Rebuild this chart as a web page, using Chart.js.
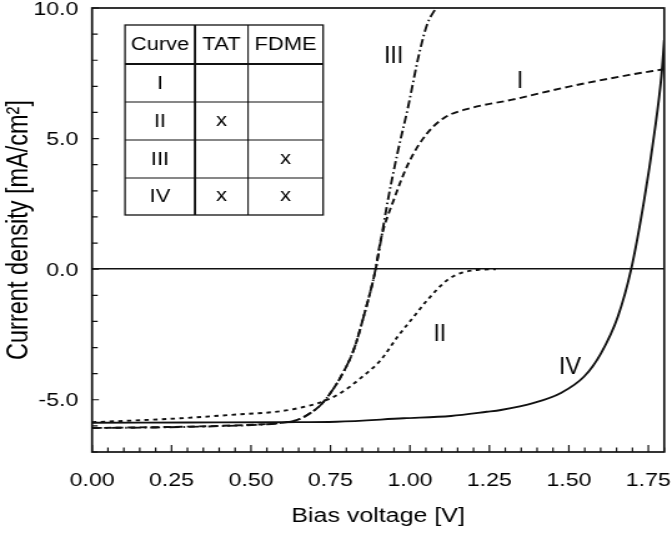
<!DOCTYPE html>
<html>
<head>
<meta charset="utf-8">
<script src="https://cdn.jsdelivr.net/npm/chart.js@4.4.1/dist/chart.umd.min.js"></script>
<style>
  html, body { margin: 0; padding: 0; background: #fff; overflow: hidden; }
  #wrap { width: 538px; height: 534px; transform: scaleX(1.249); transform-origin: 0 0; }
</style>
</head>
<body>
<div id="wrap"><canvas id="ivChart"></canvas></div>
<script>
// curve I : no TAT, no FDME
let voltsI = [0, 0.2, 0.4, 0.55, 0.593, 0.646, 0.687, 0.719, 0.75, 0.782, 0.823, 0.854, 0.892, 0.908, 0.949, 0.996, 1.05, 1.107, 1.192, 1.318, 1.497, 1.686, 1.8];
let curveI = [-6.08, -6.05, -6.0, -5.93, -5.89, -5.77, -5.51, -5.2, -4.74, -4.13, -3.09, -1.83, 0, 1.12, 2.65, 4.07, 5.14, 5.79, 6.17, 6.48, 6.98, 7.43, 7.66];
// curve II : TAT
let voltsII = [0, 0.277, 0.435, 0.593, 0.656, 0.719, 0.782, 0.845, 0.908, 0.961, 1.012, 1.055, 1.118, 1.16, 1.211, 1.27];
let curveII = [-5.86, -5.71, -5.58, -5.44, -5.3, -5.1, -4.74, -4.17, -3.48, -2.59, -1.82, -1.18, -0.41, -0.15, -0.03, 0];
// curve III : FDME
let voltsIII = [0, 0.2, 0.4, 0.55, 0.593, 0.646, 0.687, 0.719, 0.75, 0.782, 0.823, 0.854, 0.892, 0.91, 0.93, 0.96, 0.994, 1.029, 1.055, 1.082];
let curveIII = [-6.08, -6.06, -6.01, -5.94, -5.89, -5.77, -5.51, -5.2, -4.74, -4.13, -3.09, -1.83, 0, 1.2, 2.6, 4.4, 6.2, 8.25, 9.4, 10.0];
// curve IV : TAT + FDME
let voltsIV = [0, 0.3, 0.6, 0.769, 0.98, 1.129, 1.242, 1.286, 1.39, 1.475, 1.548, 1.601, 1.654, 1.696, 1.737, 1.769, 1.791, 1.8];
let curveIV = [-5.88, -5.87, -5.86, -5.84, -5.71, -5.62, -5.46, -5.39, -5.12, -4.74, -4.11, -3.22, -1.82, 0, 2.65, 5.21, 7.37, 8.77];

let curveNames = ['I', 'II', 'III', 'IV'];
let labelVolts = [1.346, 1.094, 0.949, 1.504];
let labelCurrents = [7.24, -2.44, 8.2, -3.74];

let tableHead = ['Curve', 'TAT', 'FDME'];
let tableTAT = ['', 'x', '', 'x'];
let tableFDME = ['', '', 'x', 'x'];

let xMajor = 0.25;
let yMajor = 5;

function pts(xs, ys) {
    return xs.map((v, i) => ({x: v, y: ys[i]}));
}

const FONT = '"Liberation Sans", Arial, Helvetica, sans-serif';
Chart.defaults.font.family = FONT;
Chart.defaults.color = '#000';

// frame, inward ticks, inset table and curve names
const decorations = {
    id: 'decorations',
    afterDraw(chart) {
        const {ctx, chartArea: a, scales: {x, y}} = chart;
        ctx.save();
        ctx.strokeStyle = '#111';
        ctx.lineWidth = 1.2;
        ctx.beginPath();
        x.ticks.forEach(t => {
            let px = x.getPixelForValue(t.value);
            let len = t.label ? 7 : 4.5;
            ctx.moveTo(px, a.bottom);
            ctx.lineTo(px, a.bottom - len);
        });
        y.ticks.forEach(t => {
            let py = y.getPixelForValue(t.value);
            let len = t.label ? 5.5 : 4.5;
            ctx.moveTo(a.left, py);
            ctx.lineTo(a.left + len, py);
        });
        ctx.stroke();

        ctx.lineWidth = 1.7;
        ctx.strokeRect(a.left, a.top, a.right - a.left, a.bottom - a.top);

        // table
        let tl = a.left + 26.4, tr = a.left + 185;
        let c1 = a.left + 82.4, c2 = a.left + 124.9;
        let rows = [a.top + 17, a.top + 56, a.top + 94, a.top + 132, a.top + 170, a.top + 207];
        ctx.lineWidth = 1.1;
        ctx.beginPath();
        for (let i = 2; i < rows.length - 1; i++) {
            ctx.moveTo(tl, rows[i]);
            ctx.lineTo(tr, rows[i]);
        }
        ctx.moveTo(c2, rows[0]);
        ctx.lineTo(c2, rows[5]);
        ctx.stroke();
        ctx.lineWidth = 1.3;
        ctx.strokeRect(tl, rows[0], tr - tl, rows[5] - rows[0]);
        ctx.lineWidth = 1.9;
        ctx.beginPath();
        ctx.moveTo(tl, rows[1]);
        ctx.lineTo(tr, rows[1]);
        ctx.moveTo(c1, rows[0]);
        ctx.lineTo(c1, rows[5]);
        ctx.stroke();

        ctx.fillStyle = '#000';
        ctx.textAlign = 'center';
        ctx.textBaseline = 'middle';
        ctx.font = '17.5px ' + FONT;
        let cx = [(tl + c1) / 2, (c1 + c2) / 2, (c2 + tr) / 2];
        tableHead.forEach((h, i) => ctx.fillText(h, cx[i], (rows[0] + rows[1]) / 2 + 1));
        curveNames.forEach((n, r) => {
            let cy = (rows[r + 1] + rows[r + 2]) / 2 + 1;
            ctx.fillText(n, cx[0], cy);
            ctx.fillText(tableTAT[r], cx[1], cy - 1);
            ctx.fillText(tableFDME[r], cx[2], cy - 1);
        });

        // curve names next to the curves, a little condensed
        ctx.font = '24px ' + FONT;
        curveNames.forEach((n, i) => {
            let px = x.getPixelForValue(labelVolts[i]);
            let py = y.getPixelForValue(labelCurrents[i]);
            ctx.save();
            ctx.translate(px, py);
            ctx.scale(0.78, 1);
            ctx.fillText(n, 0, 1);
            ctx.restore();
        });
        ctx.restore();
    }
};

const lineStyle = {
    borderColor: '#111',
    borderWidth: 1.9,
    pointRadius: 0,
    fill: false,
    cubicInterpolationMode: 'monotone'
};

new Chart(document.getElementById('ivChart').getContext('2d'), {
    type: 'line',
    data: {
        datasets: [
            {...lineStyle, label: 'I', data: pts(voltsI, curveI), borderDash: [6, 3.5]},
            {...lineStyle, label: 'II', data: pts(voltsII, curveII), borderDash: [3.5, 3.5]},
            {...lineStyle, label: 'III', data: pts(voltsIII, curveIII), borderDash: [8, 3, 1.5, 3]},
            {...lineStyle, label: 'IV', data: pts(voltsIV, curveIV)}
        ]
    },
    options: {
        responsive: true,
        maintainAspectRatio: false,
        animation: false,
        events: [],
        layout: {padding: {top: 8, right: 6.2, left: 0, bottom: 0}},
        plugins: {legend: {display: false}, tooltip: {enabled: false}},
        scales: {
            x: {
                type: 'linear',
                min: 0,
                max: 1.8,
                afterFit: s => { s.height = 82; s.paddingLeft = 0; s.paddingRight = 0; },
                border: {display: false},
                grid: {display: false},
                ticks: {
                    stepSize: 0.05,
                    autoSkip: false,
                    maxRotation: 0,
                    padding: 10,
                    font: {size: 18.5},
                    callback: v => Math.round(v * 100) % Math.round(xMajor * 100) === 0 ? v.toFixed(2) : ''
                },
                title: {display: true, text: 'Bias voltage [V]', font: {size: 20}, padding: {top: 0, bottom: 6}}
            },
            y: {
                min: -7,
                max: 10,
                afterFit: s => { s.width = 73.7; s.paddingTop = 0; s.paddingBottom = 0; },
                border: {display: false},
                grid: {
                    drawTicks: false,
                    color: c => c.tick && c.tick.value === 0 ? '#111' : 'rgba(0,0,0,0)',
                    lineWidth: 1.6
                },
                ticks: {
                    stepSize: 1,
                    autoSkip: false,
                    padding: 11,
                    labelOffset: 1.5,
                    font: {size: 18.5},
                    callback: v => v % yMajor === 0 ? v.toFixed(1) : ''
                },
                title: {display: true, text: 'Current density [mA/cm²]', font: {size: 23.5}, padding: {top: 1, bottom: 0}}
            }
        }
    },
    plugins: [decorations]
});
</script>
</body>
</html>
